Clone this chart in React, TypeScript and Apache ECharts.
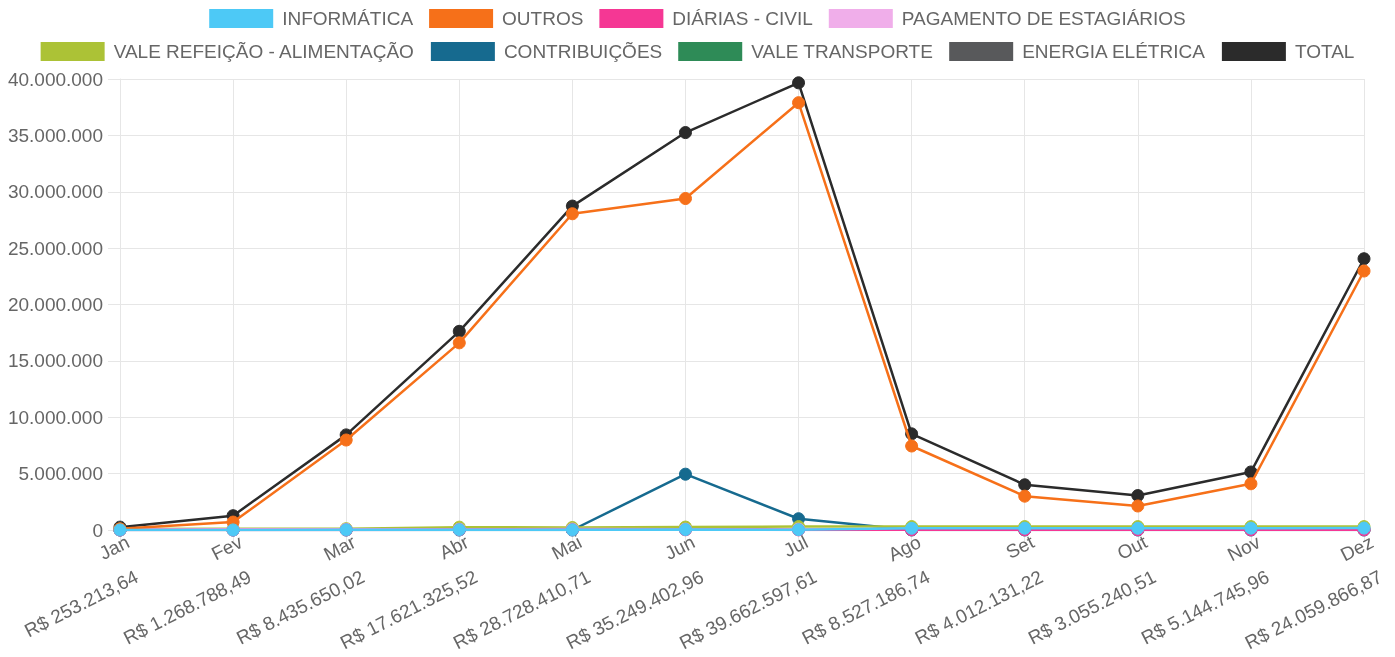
import React, { useEffect, useRef } from "react";
import * as echarts from "echarts";

const months = ["Jan", "Fev", "Mar", "Abr", "Mai", "Jun", "Jul", "Ago", "Set", "Out", "Nov", "Dez"];

const informatica = [10000, 5000, 20000, 30000, 20000, 40000, 30000, 150000, 160000, 150000, 160000, 170000];
const outros = [100000, 700000, 7980000, 16600000, 28050000, 29400000, 37900000, 7450000, 3000000, 2130000, 4100000, 22970000];
const diariasCivil = [0, 0, 10000, 20000, 30000, 20000, 10000, 20000, 20000, 20000, 20000, 20000];
const pagamentoEstagiarios = [50000, 60000, 60000, 70000, 80000, 70000, 70000, 80000, 80000, 80000, 80000, 80000];
const valeRefeicao = [80000, 100000, 120000, 250000, 220000, 260000, 300000, 300000, 300000, 300000, 300000, 300000];
const contribuicoes = [0, 0, 0, 0, 0, 4950000, 1000000, 0, 0, 0, 0, 0];
const valeTransporte = [20000, 30000, 40000, 60000, 50000, 60000, 60000, 60000, 60000, 60000, 60000, 60000];
const energiaEletrica = [30000, 40000, 40000, 50000, 40000, 50000, 50000, 50000, 50000, 50000, 50000, 50000];
const total = [253213.64, 1268788.49, 8435650.02, 17621325.52, 28728410.71, 35249402.96, 39662597.61, 8527186.74, 4012131.22, 3055240.51, 5144745.96, 24059866.87];

const seriesNames = [
  "INFORMÁTICA",
  "OUTROS",
  "DIÁRIAS - CIVIL",
  "PAGAMENTO DE ESTAGIÁRIOS",
  "VALE REFEIÇÃO - ALIMENTAÇÃO",
  "CONTRIBUIÇÕES",
  "VALE TRANSPORTE",
  "ENERGIA ELÉTRICA",
  "TOTAL",
];
const seriesData = [
  informatica,
  outros,
  diariasCivil,
  pagamentoEstagiarios,
  valeRefeicao,
  contribuicoes,
  valeTransporte,
  energiaEletrica,
  total,
];
const seriesColors = [
  "#4dc9f6",
  "#f67019",
  "#f53794",
  "#f0aeea",
  "#acc236",
  "#166a8f",
  "#2e8b57",
  "#58595b",
  "#2b2b2b",
];

const yMin = 0;
const yMax = 40000000;
const yInterval = 5000000;

const FONT = "'Liberation Sans', Arial, Helvetica, sans-serif";
const TEXT = "#666666";
const GRID = "#e6e6e6";

function thousands(s: string): string {
  return s.replace(/\B(?=(\d{3})+(?!\d))/g, ".");
}
function brl(v: number): string {
  const [i, d] = v.toFixed(2).split(".");
  return "R$ " + thousands(i) + "," + d;
}

export default function App() {
  const ref = useRef<HTMLDivElement>(null);
  useEffect(() => {
    if (!ref.current) return;
    const chart = echarts.init(ref.current, undefined, { renderer: "svg" });
    const n = seriesNames.length;
    const legendBase = {
      icon: "rect",
      itemWidth: 64,
      itemHeight: 19,
      itemGap: 16,
      left: "center",
      textStyle: { color: TEXT, fontSize: 19, fontFamily: FONT, padding: [0, 0, 0, 4] },
    };
    const labelText = { color: TEXT, fontSize: 19, fontFamily: FONT, lineHeight: 35 };
    chart.setOption({
      animation: false,
      textStyle: { fontFamily: FONT },
      legend: [
        { ...legendBase, top: 4, data: seriesNames.slice(0, 4) },
        { ...legendBase, top: 37, data: seriesNames.slice(4) },
      ],
      grid: {
        left: 120,
        right: 31,
        top: 79,
        bottom: 127,
        containLabel: false,
        outerBoundsMode: "none",
      },
      xAxis: {
        type: "category",
        data: months,
        boundaryGap: false,
        axisLine: { show: true, lineStyle: { color: GRID, width: 1 } },
        axisTick: { show: true, length: 12, lineStyle: { color: GRID } },
        splitLine: { show: true, lineStyle: { color: GRID, width: 1 } },
        axisLabel: {
          interval: 0,
          rotate: 27,
          margin: -5,
          ...labelText,
          verticalAlign: "top",
          hideOverlap: false,
          formatter: (v: string, idx: number) => "{m|" + v + "}\n{v|" + brl(total[idx]) + "}",
          rich: {
            m: { ...labelText },
            v: { ...labelText, padding: [0, 8, 0, 0] },
          },
        },
      },
      yAxis: {
        type: "value",
        min: yMin,
        max: yMax,
        interval: yInterval,
        axisLine: { show: true, lineStyle: { color: GRID, width: 1 } },
        axisTick: { show: true, length: 12, lineStyle: { color: GRID } },
        splitLine: { show: true, lineStyle: { color: GRID, width: 1 } },
        axisLabel: {
          margin: 17,
          color: TEXT,
          fontSize: 19,
          fontFamily: FONT,
          formatter: (v: number) => thousands(String(Math.round(v))),
        },
      },
      series: seriesNames.map((name, i) => ({
        name,
        type: "line",
        data: seriesData[i],
        symbol: "circle",
        symbolSize: 12,
        showSymbol: true,
        z: 10 + (n - i),
        lineStyle: { color: seriesColors[i], width: 2.5 },
        itemStyle: { color: seriesColors[i], borderColor: seriesColors[i] },
        emphasis: { disabled: true },
      })),
    });
    return () => chart.dispose();
  }, []);
  return (
    <div
      ref={ref}
      style={{ position: "fixed", left: 0, top: 0, width: 1395, height: 657 }}
    />
  );
}
